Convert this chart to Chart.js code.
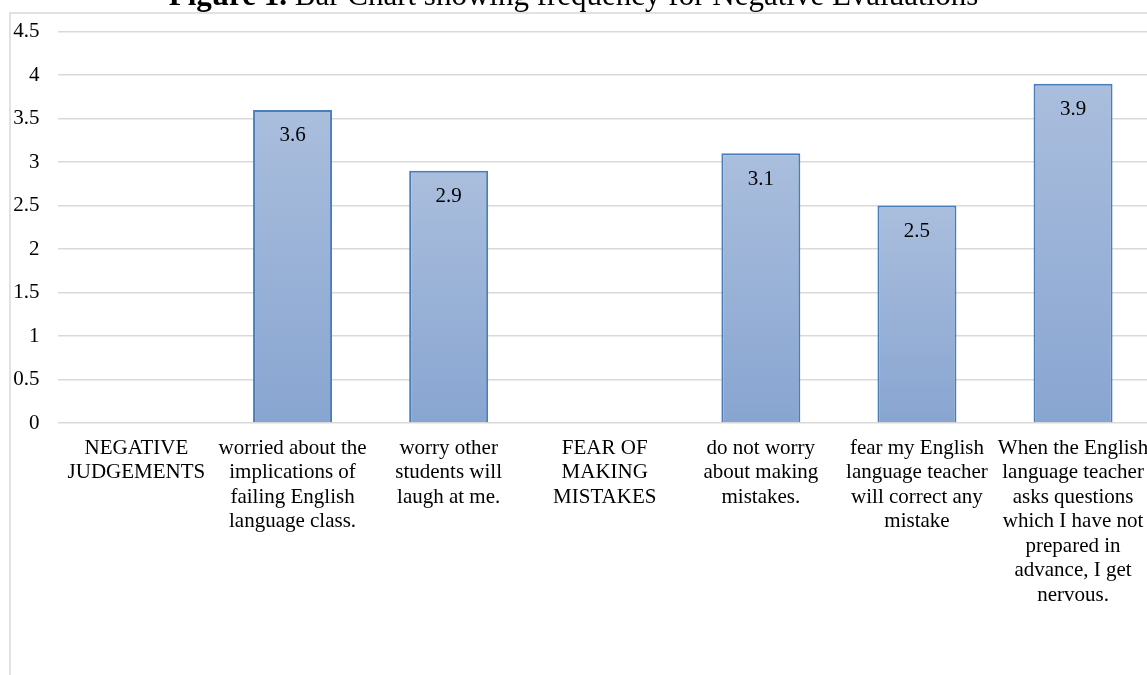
<!DOCTYPE html>
<html>
<head>
<meta charset="utf-8">
<script src="https://cdn.jsdelivr.net/npm/chart.js@4.4.0/dist/chart.umd.min.js"></script>
<style>
  html, body { margin: 0; padding: 0; overflow: hidden; background: #fff; width: 1147px; height: 675px; }
  #wrap { position: absolute; left: 0; top: 0; width: 1162px; height: 675px; }
  canvas { display: block; }
</style>
</head>
<body>
<div id="wrap"><canvas id="c" width="1162" height="675"></canvas></div>
<script>
// Category labels (pre-wrapped lines)
const categories = [
  ["NEGATIVE", "JUDGEMENTS"],
  ["worried about the", "implications of", "failing English", "language class."],
  ["worry other", "students will", "laugh at me."],
  ["FEAR OF", "MAKING", "MISTAKES"],
  ["do not worry", "about making", "mistakes."],
  ["fear my English", "language teacher", "will correct any", "mistake"],
  ["When the English", "language teacher", "asks questions", "which I have not", "prepared in", "advance, I get", "nervous."]
];

// Mean frequency per item; section headings carry no bar
const values = [null, 3.6, 2.9, null, 3.1, 2.5, 3.9];

// Value axis range
const yMin = 0;
const yMax = 4.5;
const yStep = 0.5;

const titleBold = "Figure 1.";
const titleRest = " Bar Chart showing frequency for Negative Evaluations";

const SERIF = '"Liberation Serif", "Times New Roman", serif';

// Frame, title and white background
const framePlugin = {
  id: 'frame',
  beforeDraw(chart) {
    const c = chart.ctx;
    c.save();
    c.fillStyle = '#ffffff';
    c.fillRect(0, 0, chart.width, chart.height);
    c.strokeStyle = '#d9d9d9';
    c.lineWidth = 1.5;
    c.beginPath();
    c.moveTo(10, chart.height);
    c.lineTo(10, 13);
    c.lineTo(chart.width, 13);
    c.stroke();

    c.fillStyle = '#000';
    c.textBaseline = 'alphabetic';
    c.font = 'bold 31px ' + SERIF;
    const wb = c.measureText(titleBold).width;
    c.font = '31px ' + SERIF;
    const wr = c.measureText(titleRest).width;
    const x0 = 573.5 - (wb + wr) / 2;
    c.font = 'bold 31px ' + SERIF;
    c.fillText(titleBold, x0, 5);
    c.font = '31px ' + SERIF;
    c.fillText(titleRest, x0 + wb, 5);
    c.restore();
  }
};

// Value labels inside the top of each bar
const valueLabelPlugin = {
  id: 'valueLabels',
  afterDatasetsDraw(chart) {
    const c = chart.ctx;
    const meta = chart.getDatasetMeta(0);
    c.save();
    c.font = '21px ' + SERIF;
    c.fillStyle = '#000';
    c.textAlign = 'center';
    c.textBaseline = 'middle';
    meta.data.forEach((el, i) => {
      const v = values[i];
      if (v === null || v === undefined) return;
      c.fillText(v.toFixed(1), el.x, el.y + 26);
    });
    c.restore();
  }
};

new Chart(document.getElementById('c'), {
  type: 'bar',
  data: {
    labels: categories,
    datasets: [{
      data: values,
      backgroundColor: (ctx) => {
        const chart = ctx.chart;
        const area = chart.chartArea;
        const v = ctx.raw;
        if (!area || v === null || v === undefined) return '#9cb2d8';
        const y = chart.scales.y;
        const top = y.getPixelForValue(v);
        const base = y.getPixelForValue(0);
        const g = chart.ctx.createLinearGradient(0, top, 0, base);
        g.addColorStop(0, '#aabedd');
        g.addColorStop(1, '#88a5d1');
        return g;
      },
      borderColor: '#4a7ebb',
      borderWidth: 2,
      barPercentage: 0.506,
      categoryPercentage: 1.0
    }]
  },
  options: {
    responsive: false,
    animation: false,
    devicePixelRatio: 1,
    layout: { padding: { left: 10, right: 10, top: 26, bottom: 0 } },
    plugins: {
      legend: { display: false },
      title: { display: false },
      tooltip: { enabled: false }
    },
    scales: {
      x: {
        offset: true,
        grid: { display: false, drawTicks: false },
        border: { display: false },
        ticks: {
          autoSkip: false,
          maxRotation: 0,
          minRotation: 0,
          padding: 13,
          color: '#000',
          font: { family: SERIF, size: 21, lineHeight: 1.167 }
        },
        afterFit(scale) { scale.height = 252; }
      },
      y: {
        min: yMin,
        max: yMax,
        ticks: {
          stepSize: yStep,
          padding: 19,
          color: '#000',
          font: { family: SERIF, size: 21 },
          callback: (v) => String(Number(v))
        },
        grid: { color: '#d9d9d9', lineWidth: 1.5, drawTicks: false },
        border: { display: false },
        afterFit(scale) { scale.width = 48.4; }
      }
    }
  },
  plugins: [framePlugin, valueLabelPlugin]
});
</script>
</body>
</html>
